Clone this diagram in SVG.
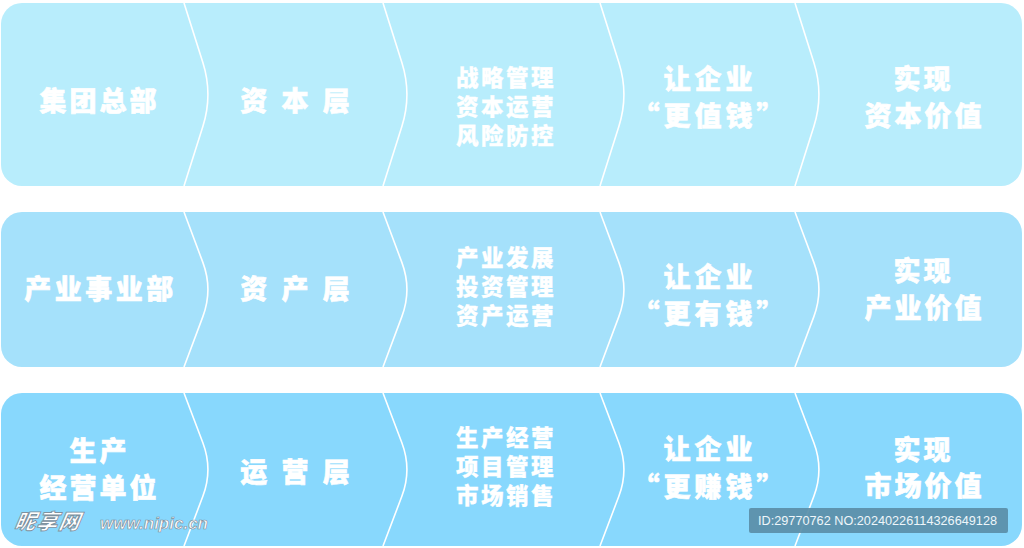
<svg xmlns="http://www.w3.org/2000/svg" width="1024" height="548" viewBox="0 0 1024 548">
<style>
.t{font-family:"Noto Sans CJK SC","Noto Sans",sans-serif;font-weight:900;fill:#fff;stroke:#fff;stroke-width:0.6;text-anchor:middle}
.h{font-size:27px;letter-spacing:4px}
.c{font-size:22.5px;letter-spacing:2.5px;stroke-width:0.3}
.v{font-size:27px;letter-spacing:3px}
.d{fill:none;stroke:#fff;stroke-width:1.6}
</style>
<rect width="1024" height="548" fill="#fff"/>
<g id="rows">
<rect x="1" y="3" width="1021" height="183" rx="21" fill="#b8edfc"/>
<rect x="1" y="212" width="1021" height="155" rx="21" fill="#a5e1fb"/>
<rect x="1" y="393" width="1021" height="153" rx="21" fill="#88d8fd"/>
</g>
<g id="connectors">
<path class="d" d="M184,3 L202.85,62.5 Q213,94.5 202.85,126.5 L184,186"/>
<path class="d" d="M383,3 L401.85,62.5 Q412,94.5 401.85,126.5 L383,186"/>
<path class="d" d="M600,3 L618.85,62.5 Q629,94.5 618.85,126.5 L600,186"/>
<path class="d" d="M795,3 L813.85,62.5 Q824,94.5 813.85,126.5 L795,186"/>
<path class="d" d="M184,212 L202.85,262.4 Q213,289.5 202.85,316.6 L184,367"/>
<path class="d" d="M383,212 L401.85,262.4 Q412,289.5 401.85,316.6 L383,367"/>
<path class="d" d="M600,212 L618.85,262.4 Q629,289.5 618.85,316.6 L600,367"/>
<path class="d" d="M795,212 L813.85,262.4 Q824,289.5 813.85,316.6 L795,367"/>
<path class="d" d="M184,393 L202.85,442.7 Q213,469.5 202.85,496.3 L184,546"/>
<path class="d" d="M383,393 L401.85,442.7 Q412,469.5 401.85,496.3 L383,546"/>
<path class="d" d="M600,393 L618.85,442.7 Q629,469.5 618.85,496.3 L600,546"/>
<path class="d" d="M795,393 L813.85,442.7 Q824,469.5 813.85,496.3 L795,546"/>
</g>
<g id="n1a"><text class="t h" x="99.5" y="111" style="letter-spacing:3px">集团总部</text></g>
<g id="n1b"><text class="t h" x="297" y="111">资 本 层</text></g>
<g id="n1c"><text class="t c" x="506" y="86">战略管理</text><text class="t c" x="506" y="115">资本运营</text><text class="t c" x="506" y="144">风险防控</text></g>
<g id="n1d"><text class="t h" x="710" y="89">让企业</text><text class="t h" x="710" y="126">“更值钱”</text></g>
<g id="n1e"><text class="t v" x="923.5" y="89">实现</text><text class="t v" x="924.5" y="126">资本价值</text></g>

<g id="n2a"><text class="t h" x="100.5" y="299" style="letter-spacing:3.5px">产业事业部</text></g>
<g id="n2b"><text class="t h" x="297" y="299">资 产 层</text></g>
<g id="n2c"><text class="t c" x="506" y="266">产业发展</text><text class="t c" x="506" y="295">投资管理</text><text class="t c" x="506" y="324">资产运营</text></g>
<g id="n2d"><text class="t h" x="710" y="287">让企业</text><text class="t h" x="710" y="324">“更有钱”</text></g>
<g id="n2e"><text class="t v" x="923.5" y="281">实现</text><text class="t v" x="924.5" y="318">产业价值</text></g>

<g id="n3a"><text class="t h" x="99.5" y="461" style="letter-spacing:3px">生产</text><text class="t h" x="99.5" y="498" style="letter-spacing:3px">经营单位</text></g>
<g id="n3b"><text class="t h" x="297" y="482">运 营 层</text></g>
<g id="n3c"><text class="t c" x="506" y="446">生产经营</text><text class="t c" x="506" y="475">项目管理</text><text class="t c" x="506" y="504">市场销售</text></g>
<g id="n3d"><text class="t h" x="710" y="459">让企业</text><text class="t h" x="710" y="497">“更赚钱”</text></g>
<g id="n3e"><text class="t v" x="923.5" y="460">实现</text><text class="t v" x="924.5" y="496">市场价值</text></g>

<g id="watermark">
<text x="15" y="529" font-family="Noto Sans CJK SC, sans-serif" font-weight="900" font-style="italic" font-size="21" fill="#fff" stroke="#7f919e" stroke-width="0.9" transform="skewX(-10) translate(92,0)" letter-spacing="1">昵享网</text>
<text x="100" y="529" font-family="Liberation Sans, Arial, sans-serif" font-weight="700" font-style="italic" font-size="17" fill="#fff" stroke="#7f919e" stroke-width="0.7">www.nipic.cn</text>
<rect x="749" y="508" width="259" height="25" rx="2" fill="#5a8ea8" fill-opacity="0.92"/>
<text x="758" y="525" font-family="Liberation Sans, Arial, sans-serif" font-size="13" fill="#eef6fa" textLength="239" lengthAdjust="spacingAndGlyphs">ID:29770762 NO:20240226114326649128</text>
</g>
</svg>
